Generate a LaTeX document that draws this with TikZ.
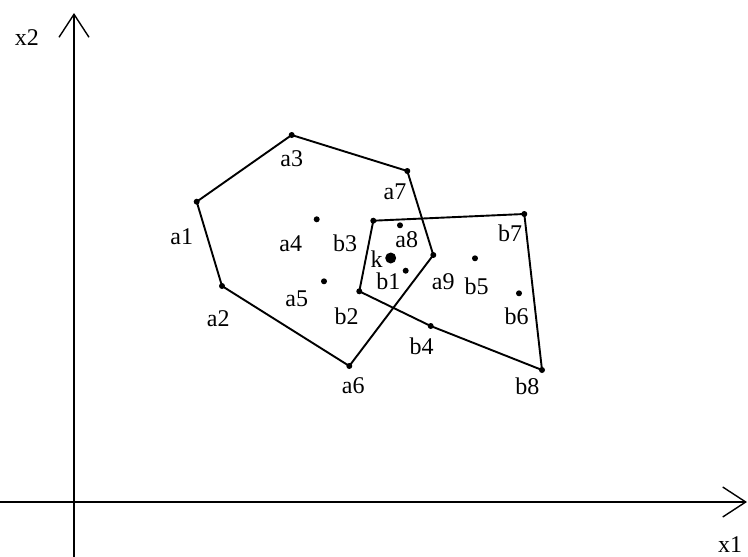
\documentclass[tikz,border=0pt]{standalone}
\usepackage{fontspec}
\setmainfont{Liberation Serif}
\usetikzlibrary{arrows.meta}
\begin{document}
\begin{tikzpicture}[x=1pt,y=-1pt,
  lbl/.style={inner sep=0pt,font=\fontsize{24}{28}\selectfont},
  pt/.style={circle,fill=black,inner sep=0pt,minimum size=6pt},
  bigpt/.style={circle,fill=black,inner sep=0pt,minimum size=11pt},
  poly/.style={line width=1.9pt,line join=round},
  axis/.style={line width=1.4pt,-{Straight Barb[length=23pt,width=30pt,line width=1.4pt]}}]
\useasboundingbox (0,0) rectangle (748,557);
% axes
\coordinate (yb) at (74,557);
\coordinate (yt) at (74,13);
\coordinate (xl) at (0,502);
\coordinate (xr) at (747,502);
\draw[axis] (yb) -- (yt);
\draw[axis] (xl) -- (xr);
\node[lbl] (x2) at (27,38) {x2};
\node[lbl] (x1) at (730,545) {x1};
% polygon A vertices
\node[pt] (a1) at (196.7,201.7) {};
\node[pt] (a2) at (222,286) {};
\node[pt] (a3) at (291.7,135) {};
\node[pt] (a6) at (349.3,366) {};
\node[pt] (a7) at (407.3,171) {};
\node[pt] (a9) at (433.3,255) {};
\node[pt] (a4) at (316.7,219.3) {};
\node[pt] (a5) at (324,281.3) {};
\node[pt] (a8) at (400,225.3) {};
% polygon B vertices
\node[pt] (b1) at (405.7,270.7) {};
\node[pt] (b2) at (359.3,291.3) {};
\node[pt] (b3) at (373.3,220.7) {};
\node[pt] (b4) at (430.7,326) {};
\node[pt] (b5) at (475,258.3) {};
\node[pt] (b6) at (519,293.3) {};
\node[pt] (b7) at (524.3,214) {};
\node[pt] (b8) at (542,370) {};
\node[bigpt] (k) at (390.7,258) {};
% polygons
\draw[poly] (a1.center) -- (a3.center) -- (a7.center) -- (a9.center) -- (a6.center) -- (a2.center) -- cycle;
\draw[poly] (b3.center) -- (b7.center) -- (b8.center) -- (b4.center) -- (b2.center) -- cycle;
% labels
\node[lbl] (la3) at (291.7,158.3) {a3};
\node[lbl] (la7) at (395,191.7) {a7};
\node[lbl] (la1) at (181.7,236.7) {a1};
\node[lbl] (la4) at (290.7,243.3) {a4};
\node[lbl] (lb3) at (345,243.3) {b3};
\node[lbl] (la8) at (406.7,240) {a8};
\node[lbl] (lk) at (376.7,259) {k};
\node[lbl] (lb1) at (388.3,281.7) {b1};
\node[lbl] (la5) at (296.7,298.3) {a5};
\node[lbl] (la2) at (218.3,318.3) {a2};
\node[lbl] (lb2) at (346.7,316.7) {b2};
\node[lbl] (la6) at (353.3,386) {a6};
\node[lbl] (lb4) at (421.7,346.7) {b4};
\node[lbl] (la9) at (443.3,281.7) {a9};
\node[lbl] (lb5) at (476.7,286.7) {b5};
\node[lbl] (lb7) at (510,233.3) {b7};
\node[lbl] (lb6) at (516.7,316.7) {b6};
\node[lbl] (lb8) at (527.3,386.7) {b8};
\end{tikzpicture}
\end{document}
